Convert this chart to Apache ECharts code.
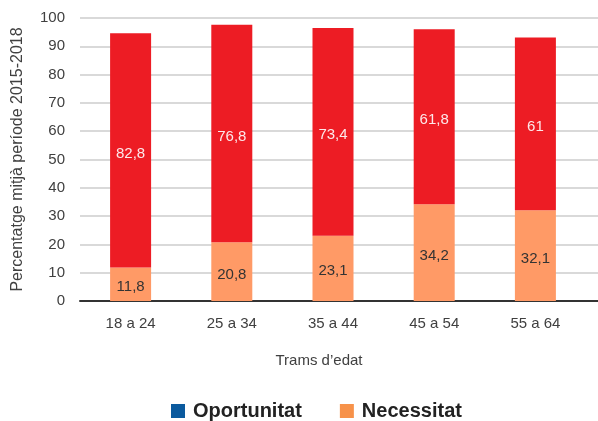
<!DOCTYPE html>
<html>
<head>
<meta charset="utf-8">
<script src="https://cdn.jsdelivr.net/npm/echarts@6/dist/echarts.min.js"></script>
<style>
  html, body { margin: 0; padding: 0; background: #fff; }
  #chart { width: 598px; height: 421px; }
</style>
</head>
<body>
<div id="chart"></div>
<script>
// Age brackets and average shares (%) for 2015-2018
var categories = ['18 a 24', '25 a 34', '35 a 44', '45 a 54', '55 a 64'];
var necessitat = [11.8, 20.8, 23.1, 34.2, 32.1];
var oportunitat = [82.8, 76.8, 73.4, 61.8, 61];
var yTicks = { min: 0, max: 100, interval: 10 };

var FONT = '"Liberation Sans", Arial, Helvetica, sans-serif';
var TEXT = '#404040';
var fmt = function (p) { return String(p.value).replace('.', ','); };

var chart = echarts.init(document.getElementById('chart'), null, { renderer: 'canvas' });
chart.setOption({
  animation: false,
  textStyle: { fontFamily: FONT },
  // grid 0: frame (gridlines + baseline) running to the right edge
  // grid 1: the category bands holding the bars
  grid: [
    { left: 80, right: 0, top: 18, bottom: 120 },
    { left: 80, right: 12, top: 18, bottom: 120 }
  ],
  legend: {
    bottom: 0,
    padding: 0,
    left: 171,
    itemWidth: 14,
    itemHeight: 14,
    itemGap: 38,
    icon: 'rect',
    textStyle: { fontFamily: FONT, fontSize: 20, fontWeight: 'bold', color: '#222', padding: [0, 0, 0, 3] },
    data: [
      { name: 'Oportunitat', itemStyle: { color: '#0B5A9E' } },
      { name: 'Necessitat', itemStyle: { color: '#F7924A' } }
    ]
  },
  xAxis: [
    {
      gridIndex: 0,
      type: 'value',
      min: 0, max: 1,
      axisLine: { show: true, onZero: false, lineStyle: { color: '#333', width: 2 } },
      axisTick: { show: false },
      axisLabel: { show: false },
      splitLine: { show: false }
    },
    {
      gridIndex: 1,
      type: 'category',
      data: categories,
      name: 'Trams d\u2019edat',
      nameLocation: 'middle',
      nameGap: 52,
      nameTextStyle: { fontFamily: FONT, fontSize: 15, color: TEXT, padding: [0, 28, 0, 0] },
      axisLine: { show: false },
      axisTick: { show: false },
      axisLabel: { fontFamily: FONT, fontSize: 15, color: TEXT, margin: 15 }
    }
  ],
  yAxis: [
    {
      gridIndex: 0,
      type: 'value',
      min: yTicks.min,
      max: yTicks.max,
      interval: yTicks.interval,
      name: 'Percentatge mitj\u00e0 per\u00edode 2015-2018',
      nameLocation: 'middle',
      nameGap: 54,
      nameRotate: 90,
      nameTextStyle: { fontFamily: FONT, fontSize: 16, color: TEXT },
      axisLine: { show: false },
      axisTick: { show: false },
      axisLabel: { fontFamily: FONT, fontSize: 15, color: TEXT, margin: 15 },
      splitLine: { lineStyle: { color: '#d9d9d9', width: 2 } }
    },
    {
      gridIndex: 1,
      type: 'value',
      min: yTicks.min,
      max: yTicks.max,
      interval: yTicks.interval,
      show: false,
      splitLine: { show: false }
    }
  ],
  series: [
    {
      name: 'Necessitat',
      type: 'bar',
      xAxisIndex: 1,
      yAxisIndex: 1,
      stack: 'total',
      barWidth: 41,
      data: necessitat,
      itemStyle: { color: '#FF9A66' },
      label: {
        show: true, position: 'inside', offset: [0, 3],
        formatter: fmt, fontFamily: FONT, fontSize: 15, color: '#333'
      }
    },
    {
      name: 'Oportunitat',
      type: 'bar',
      xAxisIndex: 1,
      yAxisIndex: 1,
      stack: 'total',
      barWidth: 41,
      data: oportunitat,
      itemStyle: { color: '#ED1C24' },
      label: {
        show: true, position: 'inside', offset: [0, 3],
        formatter: fmt, fontFamily: FONT, fontSize: 15, color: '#FDE8EA'
      }
    }
  ]
});
</script>
</body>
</html>
